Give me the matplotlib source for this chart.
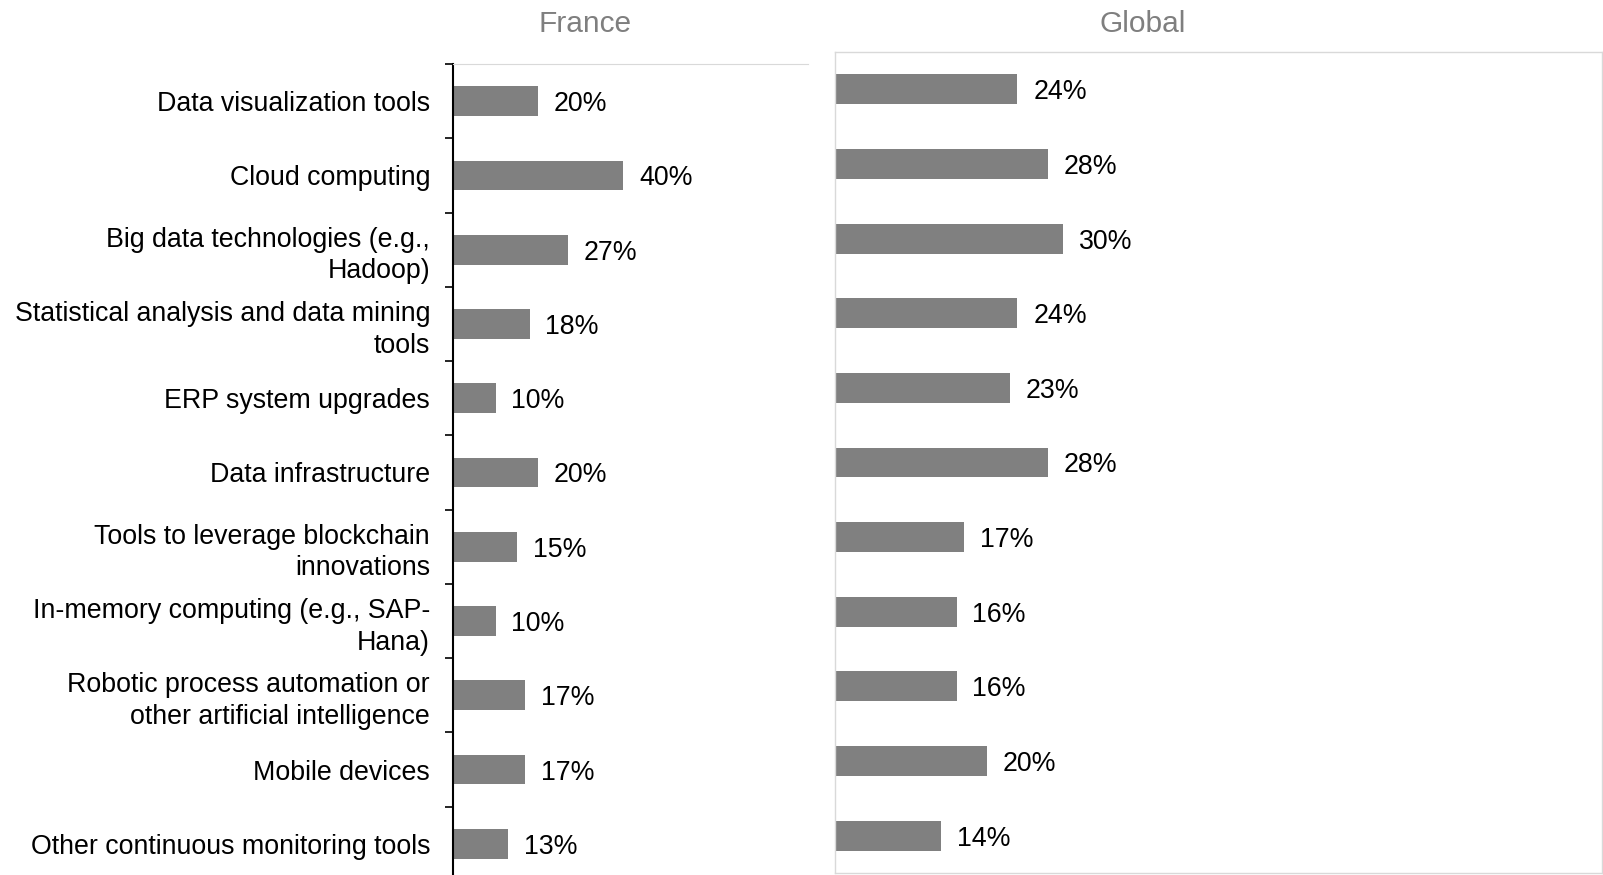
import numpy as np
import matplotlib.pyplot as plt

plt.rcParams['font.family'] = ['Liberation Sans', 'DejaVu Sans']

categories = [
    'Data visualization tools',
    'Cloud computing',
    'Big data technologies (e.g.,\nHadoop)',
    'Statistical analysis and data mining\ntools',
    'ERP system upgrades',
    'Data infrastructure',
    'Tools to leverage blockchain\ninnovations',
    'In-memory computing (e.g., SAP-\nHana)',
    'Robotic process automation or\nother artificial intelligence',
    'Mobile devices',
    'Other continuous monitoring tools',
]
france = [20, 40, 27, 18, 10, 20, 15, 10, 17, 17, 13]
global_ = [24, 28, 30, 24, 23, 28, 17, 16, 16, 20, 14]

bar_color = '#808080'
fs = 19.3
W, H = 1603, 875

fig = plt.figure(figsize=(W / 100, H / 100), dpi=100)
ax1 = fig.add_axes([453 / W, 1 - 881 / H, (808 - 453) / W, (881 - 64) / H])
ax2 = fig.add_axes([835 / W, 1 - 873 / H, (1602 - 835) / W, (873 - 52) / H])

y = np.arange(len(categories))

# France panel
ax1.barh(y, france, height=0.4, color=bar_color)
ax1.set_ylim(10.5, -0.5)
ax1.set_xlim(0, 83.5)
ax1.set_yticks(y)
ax1.set_yticklabels(categories, fontsize=fs, linespacing=1.28)
ax1.tick_params(axis='y', which='major', length=0, pad=16.5)
ax1.set_yticks(np.arange(-0.5, 11, 1), minor=True)
ax1.tick_params(axis='y', which='minor', length=6, width=1.2, direction='out')
ax1.set_xticks([])
for s in ['right', 'bottom']:
    ax1.spines[s].set_visible(False)
ax1.spines['top'].set_color('#d9d9d9')
ax1.spines['left'].set_linewidth(1.5)
for i, v in enumerate(france):
    ax1.annotate(f'{v}%', (v, i), xytext=(11.5, 0), textcoords='offset points',
                 va='center_baseline', ha='left', fontsize=fs)

# Global panel
ax2.barh(y, global_, height=0.4, color=bar_color)
ax2.set_ylim(10.5, -0.5)
ax2.set_xlim(0, 101)
ax2.set_xticks([])
ax2.set_yticks([])
for s in ax2.spines.values():
    s.set_color('#d9d9d9')
    s.set_linewidth(1)
for i, v in enumerate(global_):
    ax2.annotate(f'{v}%', (v, i), xytext=(11.5, 0), textcoords='offset points',
                 va='center_baseline', ha='left', fontsize=fs)

fig.text(585 / W, 1 - 24 / H, 'France', ha='center', va='center', fontsize=21.5, color='#7f7f7f')
fig.text(1143 / W, 1 - 24 / H, 'Global', ha='center', va='center', fontsize=21.5, color='#7f7f7f')

fig.savefig('out.png', dpi=100)
